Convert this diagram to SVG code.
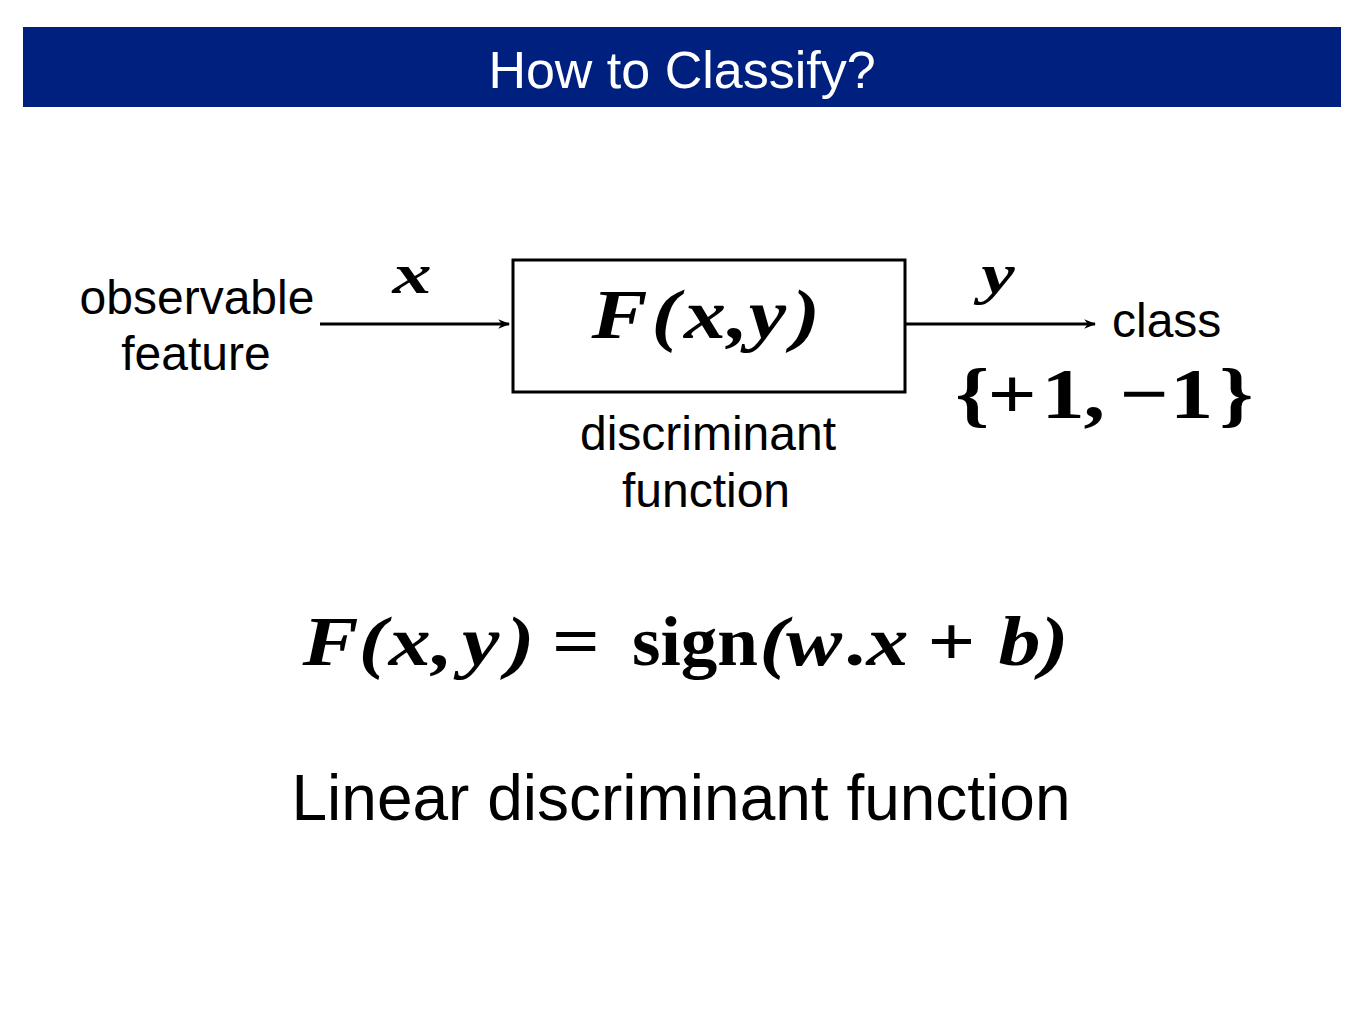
<svg xmlns="http://www.w3.org/2000/svg" width="1365" height="1024" viewBox="0 0 1365 1024">
<defs>
<style>
.sans{font-family:"Liberation Sans",Arial,sans-serif;fill:#000}
.math{font-family:"Liberation Serif","Times New Roman",serif;font-weight:bold;font-style:italic;fill:#000}
.mathup{font-family:"Liberation Serif","Times New Roman",serif;font-weight:bold;font-style:normal;fill:#000}
.conn{stroke:#000;stroke-width:3;fill:none}
</style>
<marker id="arr" viewBox="0 0 10 10" refX="9" refY="5" markerWidth="4" markerHeight="4" orient="auto" markerUnits="strokeWidth">
<path d="M0,1 L10,5 L0,9 L3,5 Z" fill="#000"/>
</marker>
</defs>
<rect width="1365" height="1024" fill="#fff"/>
<g id="title">
<rect x="23" y="27" width="1318" height="80" fill="#002080"/>
<text x="682" y="88" text-anchor="middle" class="sans" style="fill:#fff" font-size="52">How to Classify?</text>
</g>
<g id="input">
<text x="197" y="314" text-anchor="middle" class="sans" font-size="48">observable</text>
<text x="196" y="370" text-anchor="middle" class="sans" font-size="48">feature</text>
</g>
<g id="box">
<rect x="513" y="260" width="392" height="132" fill="none" stroke="#000" stroke-width="3"/>
<text transform="translate(0,338) scale(1.2,1)" class="math" font-size="70"><tspan x="493">F</tspan><tspan x="543">(</tspan><tspan x="570">x</tspan><tspan x="606">,</tspan><tspan x="624">y</tspan><tspan x="660">)</tspan></text>
</g>
<g id="boxlabel">
<text x="708" y="450" text-anchor="middle" class="sans" font-size="48">discriminant</text>
<text x="706" y="507" text-anchor="middle" class="sans" font-size="48">function</text>
</g>
<g id="output">
<text x="1112" y="337" class="sans" font-size="48">class</text>
<text transform="translate(0,418) scale(1.2,1)" class="mathup" font-size="72"><tspan x="796">{</tspan><tspan x="823">+</tspan><tspan x="868">1</tspan><tspan x="903">,</tspan><tspan x="933">−</tspan><tspan x="975">1</tspan><tspan x="1016">}</tspan></text>
</g>
<g id="connectors">
<line x1="320" y1="324" x2="509" y2="324" class="conn" marker-end="url(#arr)"/>
<line x1="905" y1="324" x2="1095" y2="324" class="conn" marker-end="url(#arr)"/>
<text transform="translate(412,293) scale(1.35,1)" text-anchor="middle" class="math" font-size="58">x</text>
<text transform="translate(998,293) scale(1.3,1)" text-anchor="middle" class="math" font-size="58">y</text>
</g>
<g id="formula">
<text transform="translate(0,665) scale(1.2,1)" class="math" font-size="70"><tspan x="252">F</tspan><tspan x="299">(</tspan><tspan x="324">x</tspan><tspan x="360">,</tspan><tspan x="385">y</tspan><tspan x="422">)</tspan><tspan x="460" class="mathup">=</tspan><tspan x="633">(</tspan><tspan x="655">w</tspan><tspan x="706">.</tspan><tspan x="722">x</tspan><tspan x="773" class="mathup">+</tspan><tspan x="832">b</tspan><tspan x="867">)</tspan></text>
<text x="632" y="665" class="mathup" font-size="70" textLength="126" lengthAdjust="spacingAndGlyphs">sign</text>
</g>
<g id="caption">
<text x="681" y="820" text-anchor="middle" class="sans" font-size="64">Linear discriminant function</text>
</g>
</svg>
